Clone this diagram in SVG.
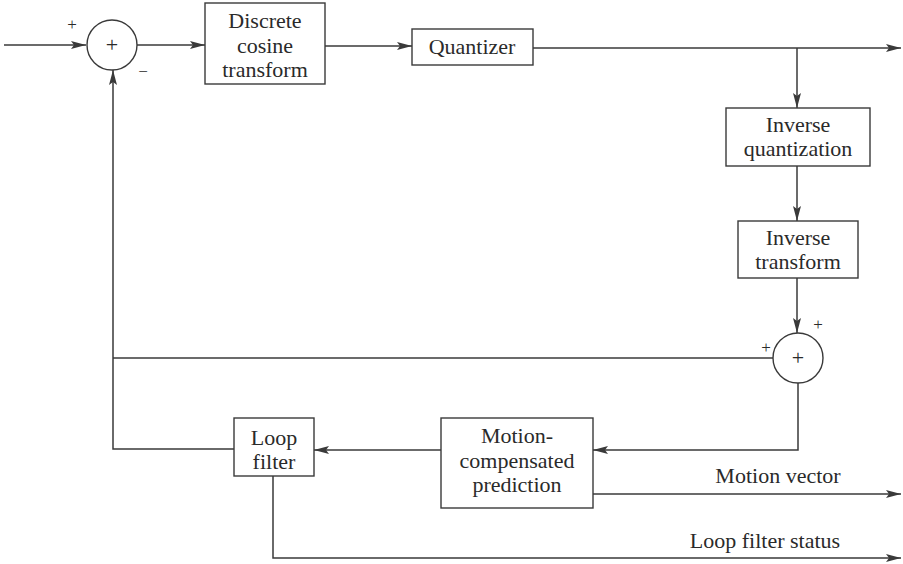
<svg xmlns="http://www.w3.org/2000/svg" width="903" height="564" viewBox="0 0 903 564">
<style>
.box{fill:#fff;stroke:#3a3a3a;stroke-width:1.4}
.sum{fill:#fff;stroke:#3a3a3a;stroke-width:1.4}
.ln{fill:none;stroke:#3a3a3a;stroke-width:1.5}
.t{font-family:'Liberation Serif','DejaVu Serif',serif;font-size:22px;fill:#2a2a2a;text-anchor:middle}
.sm{font-size:17px}
</style>
<defs>
<marker id="ah" markerUnits="userSpaceOnUse" markerWidth="16" markerHeight="10" refX="15" refY="4" orient="auto">
<path d="M0,0 L15,4 L0,8 L3,4 z" fill="#3a3a3a"/>
</marker>
</defs>
<rect width="903" height="564" fill="#fff"/>
<g id="connectors">
<path class="ln" d="M4,45 L86,45" marker-end="url(#ah)"/>
<path class="ln" d="M137,45 L205,45" marker-end="url(#ah)"/>
<path class="ln" d="M325,46 L412,46" marker-end="url(#ah)"/>
<path class="ln" d="M533,48 L901,48" marker-end="url(#ah)"/>
<path class="ln" d="M797,48 L797,108" marker-end="url(#ah)"/>
<path class="ln" d="M797,166 L797,221" marker-end="url(#ah)"/>
<path class="ln" d="M797,278 L797,333" marker-end="url(#ah)"/>
<path class="ln" d="M773,358 L113,358"/>
<path class="ln" d="M234,449 L113,449 L113,70" marker-end="url(#ah)"/>
<path class="ln" d="M798,383 L798,450 L593,450" marker-end="url(#ah)"/>
<path class="ln" d="M441,450 L314,450" marker-end="url(#ah)"/>
<path class="ln" d="M593,494 L901,494" marker-end="url(#ah)"/>
<path class="ln" d="M273,476 L273,558 L901,558" marker-end="url(#ah)"/>
</g>
<g id="sum1">
<circle class="sum" cx="112" cy="45" r="25"/>
<text class="t" x="112" y="52">+</text>
<text class="t sm" x="72" y="30">+</text>
<text class="t sm" x="143" y="77">−</text>
</g>
<g id="dct">
<rect class="box" x="205" y="3" width="120" height="81"/>
<text class="t" x="265" y="28">Discrete</text>
<text class="t" x="265" y="53">cosine</text>
<text class="t" x="265" y="77">transform</text>
</g>
<g id="quantizer">
<rect class="box" x="412" y="29" width="121" height="36"/>
<text class="t" x="472" y="54">Quantizer</text>
</g>
<g id="inv-quant">
<rect class="box" x="726" y="108" width="144" height="58"/>
<text class="t" x="798" y="132">Inverse</text>
<text class="t" x="798" y="156">quantization</text>
</g>
<g id="inv-transform">
<rect class="box" x="738" y="221" width="120" height="57"/>
<text class="t" x="798" y="245">Inverse</text>
<text class="t" x="798" y="269">transform</text>
</g>
<g id="sum2">
<circle class="sum" cx="798" cy="358" r="25"/>
<text class="t" x="798" y="365">+</text>
<text class="t sm" x="818" y="330">+</text>
<text class="t sm" x="766" y="353">+</text>
</g>
<g id="mcp">
<rect class="box" x="441" y="418" width="152" height="90"/>
<text class="t" x="517" y="443">Motion-</text>
<text class="t" x="517" y="468">compensated</text>
<text class="t" x="517" y="492">prediction</text>
</g>
<g id="loop-filter">
<rect class="box" x="234" y="418" width="80" height="58"/>
<text class="t" x="274" y="445">Loop</text>
<text class="t" x="274" y="469">filter</text>
</g>
<g id="labels">
<text class="t" x="778" y="483">Motion vector</text>
<text class="t" x="765" y="548">Loop filter status</text>
</g>
</svg>
